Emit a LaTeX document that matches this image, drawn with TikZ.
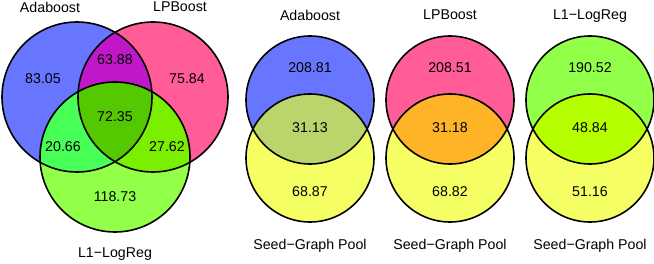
\documentclass[tikz,border=0pt]{standalone}
\usepackage{fontspec}
\setmainfont{Liberation Sans}
\definecolor{cAda}{RGB}{104,118,255}
\definecolor{cLP}{RGB}{255,92,152}
\definecolor{cL1}{RGB}{146,255,72}
\definecolor{cAdaLP}{RGB}{192,24,200}
\definecolor{cAdaL1}{RGB}{72,255,88}
\definecolor{cLPL1}{RGB}{122,240,0}
\definecolor{cAll}{RGB}{84,200,0}
\definecolor{cSeed}{RGB}{245,255,100}
\definecolor{cAdaS}{RGB}{188,212,108}
\definecolor{cLPS}{RGB}{255,180,40}
\definecolor{cL1S}{RGB}{182,255,0}
\begin{document}
\begin{tikzpicture}[x=1pt,y=-1pt,
  lab/.style={font=\fontsize{14.2}{16}\selectfont, inner sep=0pt, text depth=0pt},
  ring/.style={draw=black, line width=1.6pt}]
\useasboundingbox (0,0) rectangle (654,264);
% ---------- three-set Venn ----------
\coordinate (A) at (77,97);
\coordinate (B) at (153,97);
\coordinate (C) at (115,157);
\fill[cAda] (A) circle (75pt);
\fill[cLP] (B) circle (75pt);
\fill[cL1] (C) circle (75pt);
\begin{scope}\clip (A) circle (75pt); \fill[cAdaLP] (B) circle (75pt); \end{scope}
\begin{scope}\clip (A) circle (75pt); \fill[cAdaL1] (C) circle (75pt); \end{scope}
\begin{scope}\clip (B) circle (75pt); \fill[cLPL1] (C) circle (75pt); \end{scope}
\begin{scope}\clip (A) circle (75pt); \clip (B) circle (75pt); \fill[cAll] (C) circle (75pt); \end{scope}
\draw[ring] (A) circle (75pt);
\draw[ring] (B) circle (75pt);
\draw[ring] (C) circle (75pt);
\node[lab] (tA) at (50,7) {Adaboost};
\node[lab] (tB) at (180,7) {LPBoost};
\node[lab] (tC) at (115,253) {L1−LogReg};
\node[lab] (n1) at (43,79) {83.05};
\node[lab] (n2) at (115,60) {63.88};
\node[lab] (n3) at (187,79) {75.84};
\node[lab] (n4) at (115,117) {72.35};
\node[lab] (n5) at (63,147) {20.66};
\node[lab] (n6) at (167,147) {27.62};
\node[lab] (n7) at (115,197) {118.73};
% ---------- two-set Venns ----------
\foreach \cx/\col/\icol/\name/\a/\b/\c/\k in {310/cAda/cAdaS/Adaboost/208.81/31.13/68.87/p,450/cLP/cLPS/LPBoost/208.51/31.18/68.82/q,590/cL1/cL1S/L1−LogReg/190.52/48.84/51.16/r}{
  \coordinate (T\k) at (\cx,100);
  \coordinate (S\k) at (\cx,158);
  \fill[\col] (T\k) circle (64pt);
  \fill[cSeed] (S\k) circle (64pt);
  \begin{scope}\clip (T\k) circle (64pt); \fill[\icol] (S\k) circle (64pt); \end{scope}
  \draw[ring] (T\k) circle (64pt);
  \draw[ring] (S\k) circle (64pt);
  \node[lab] (title\k) at (\cx,15) {\name};
  \node[lab] (top\k) at (\cx,68) {\a};
  \node[lab] (mid\k) at (\cx,128) {\b};
  \node[lab] (bot\k) at (\cx,192) {\c};
  \node[lab] (pool\k) at (\cx,244) {Seed−Graph Pool};
}
\end{tikzpicture}
\end{document}
